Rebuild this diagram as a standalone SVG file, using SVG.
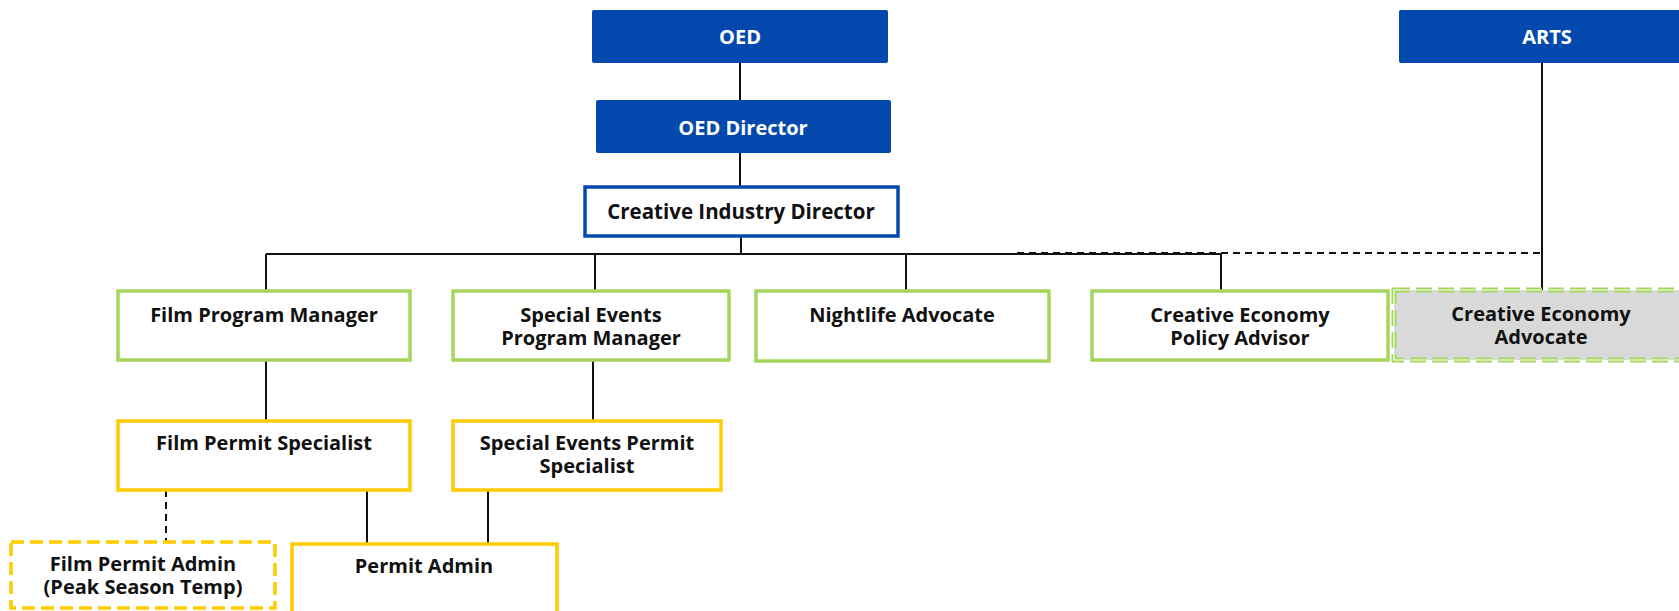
<svg xmlns="http://www.w3.org/2000/svg" width="1679" height="611" viewBox="0 0 1679 611">
<style>
text{font-family:"Open Sans","Noto Sans","Liberation Sans",sans-serif;font-weight:bold;font-size:20px;text-anchor:middle;fill:#111}
.w{fill:#fff}
.blue{fill:#0349AD;stroke:none}
.cid{fill:#fff;stroke:#0349AD;stroke-width:3.5}
.green{fill:#fff;stroke:#A5D65C;stroke-width:3.5}
.yellow{fill:#fff;stroke:#FFCC00;stroke-width:3.5}
.ydash{fill:#fff;stroke:#FFCC00;stroke-width:3.5;stroke-dasharray:13 6}
.gdash{fill:#D9D9D9;stroke:#A5D65C;stroke-width:5;stroke-dasharray:16 6}
.gdashin{fill:none;stroke:#fff;stroke-width:1.2;stroke-dasharray:16 6}
.ln{stroke:#111;stroke-width:2;fill:none}
.dl{stroke:#111;stroke-width:2;fill:none;stroke-dasharray:7 5}
</style>
<g id="connectors">
<line class="ln" x1="740" y1="63" x2="740" y2="101"/>
<line class="ln" x1="740" y1="153" x2="740" y2="186"/>
<line class="ln" x1="741" y1="236" x2="741" y2="254"/>
<line class="ln" x1="266" y1="254" x2="1221" y2="254"/>
<line class="dl" x1="1017" y1="253" x2="1542" y2="253"/>
<line class="ln" x1="266" y1="254" x2="266" y2="290"/>
<line class="ln" x1="595" y1="254" x2="595" y2="290"/>
<line class="ln" x1="906" y1="254" x2="906" y2="290"/>
<line class="ln" x1="1221" y1="254" x2="1221" y2="290"/>
<line class="ln" x1="1542" y1="63" x2="1542" y2="290"/>
<line class="ln" x1="266" y1="360" x2="266" y2="421"/>
<line class="ln" x1="593" y1="360" x2="593" y2="421"/>
<line class="dl" x1="166" y1="490" x2="166" y2="542"/>
<line class="ln" x1="367" y1="490" x2="367" y2="544"/>
<line class="ln" x1="488" y1="490" x2="488" y2="544"/>
</g>
<g id="oed">
<rect class="blue" x="592" y="10" width="296" height="53" rx="2"/>
<text class="w" x="740" y="44">OED</text>
</g>
<g id="arts">
<rect class="blue" x="1399" y="10" width="296" height="53" rx="2"/>
<text class="w" x="1547" y="44">ARTS</text>
</g>
<g id="oed-director">
<rect class="blue" x="596" y="100" width="295" height="53" rx="2"/>
<text class="w" x="743" y="135">OED Director</text>
</g>
<g id="creative-industry-director">
<rect class="cid" x="585" y="187" width="313" height="49"/>
<text x="741" y="219" style="font-size:20.5px">Creative Industry Director</text>
</g>
<g id="film-program-manager">
<rect class="green" x="118" y="291" width="292" height="69"/>
<text x="264" y="322">Film Program Manager</text>
</g>
<g id="special-events-program-manager">
<rect class="green" x="453" y="291" width="276" height="69"/>
<text x="591" y="322">Special Events</text>
<text x="591" y="345">Program Manager</text>
</g>
<g id="nightlife-advocate">
<rect class="green" x="756" y="291" width="293" height="70"/>
<text x="902" y="322">Nightlife Advocate</text>
</g>
<g id="creative-economy-policy-advisor">
<rect class="green" x="1092" y="291" width="296" height="69"/>
<text x="1240" y="322">Creative Economy</text>
<text x="1240" y="345">Policy Advisor</text>
</g>
<g id="creative-economy-advocate">
<rect class="gdash" x="1394" y="290" width="300" height="70"/>
<rect class="gdashin" x="1394" y="290" width="300" height="70"/>
<text x="1541" y="321">Creative Economy</text>
<text x="1541" y="344">Advocate</text>
</g>
<g id="film-permit-specialist">
<rect class="yellow" x="118" y="421" width="292" height="69"/>
<text x="264" y="450">Film Permit Specialist</text>
</g>
<g id="special-events-permit-specialist">
<rect class="yellow" x="453" y="421" width="268" height="69"/>
<text x="587" y="450">Special Events Permit</text>
<text x="587" y="473">Specialist</text>
</g>
<g id="film-permit-admin">
<rect class="ydash" x="11" y="542" width="264" height="66"/>
<text x="143" y="571">Film Permit Admin</text>
<text x="143" y="594">(Peak Season Temp)</text>
</g>
<g id="permit-admin">
<rect class="yellow" x="292" y="544" width="265" height="70"/>
<text x="424" y="573">Permit Admin</text>
</g>
</svg>
